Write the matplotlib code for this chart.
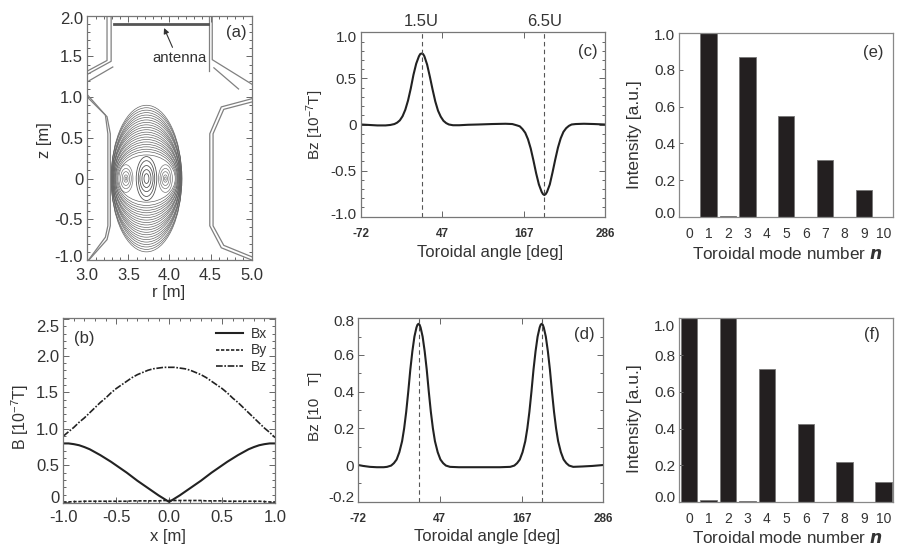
import matplotlib
matplotlib.use("Agg")
import matplotlib.pyplot as plt
from matplotlib.patches import Ellipse
from matplotlib.ticker import MultipleLocator
from matplotlib.transforms import ScaledTranslation

plt.rcParams["font.family"] = ["Liberation Sans", "DejaVu Sans"]
plt.rcParams["mathtext.default"] = "regular"
plt.rcParams["text.color"] = "#333333"
plt.rcParams["axes.labelcolor"] = "#333333"
plt.rcParams["xtick.color"] = "#666666"
plt.rcParams["ytick.color"] = "#666666"
plt.rcParams["xtick.labelcolor"] = "#333333"
plt.rcParams["ytick.labelcolor"] = "#333333"

W, H = 903, 547

# --------------------------------
# (a) machine cross section
# --------------------------------
wall_left_top_1 = ([3.24, 3.24, 3.0], [2.0, 1.45, 1.32])
wall_left_top_2 = ([3.29, 3.29, 3.0], [2.0, 1.44, 1.28])
wall_left_top_3 = ([3.31, 3.02], [1.37, 1.20])
wall_left_low_1 = ([3.0, 3.22, 3.25, 3.25, 3.22, 3.0], [1.03, 0.78, 0.55, -0.58, -0.72, -1.02])
wall_left_low_2 = ([3.0, 3.24, 3.28, 3.28, 3.24, 3.02], [1.0, 0.76, 0.55, -0.58, -0.75, -1.0])
wall_right_top_1 = ([4.48, 4.48], [2.0, 1.32])
wall_right_top_2 = ([4.52, 4.52, 5.0], [2.0, 1.46, 1.16])
wall_right_top_3 = ([4.54, 4.84], [1.36, 1.10])
wall_right_low_1 = ([5.0, 4.63, 4.49, 4.49, 4.63, 5.0], [0.98, 0.88, 0.55, -0.58, -0.85, -1.0])
wall_right_low_2 = ([5.0, 4.66, 4.53, 4.53, 4.66, 5.0], [0.94, 0.85, 0.55, -0.58, -0.82, -0.96])

walls = [
    wall_left_top_1, wall_left_top_2, wall_left_top_3,
    wall_left_low_1, wall_left_low_2,
    wall_right_top_1, wall_right_top_2, wall_right_top_3,
    wall_right_low_1, wall_right_low_2,
]

antenna_r = [3.33, 4.47]
antenna_z = [1.9, 1.9]

# contour surfaces: half width, half height
outer_w = [0.43, 0.43, 0.43, 0.42, 0.42, 0.42, 0.42, 0.41, 0.41, 0.41, 0.41, 0.40, 0.40, 0.40, 0.39, 0.39, 0.38, 0.38, 0.37, 0.36, 0.35]
outer_h = [0.90, 0.87, 0.84, 0.81, 0.78, 0.75, 0.72, 0.69, 0.66, 0.63, 0.60, 0.57, 0.54, 0.51, 0.48, 0.45, 0.42, 0.39, 0.36, 0.33, 0.29]
centre_w = [0.125, 0.10, 0.08, 0.055, 0.03]
centre_h = [0.27, 0.22, 0.16, 0.11, 0.06]
side_w = [0.085, 0.065, 0.045, 0.025, 0.01]
side_h = [0.17, 0.125, 0.085, 0.045, 0.02]
centre_r = 3.72
side_r = [3.47, 3.95]

# --------------------------------
# (b) field along x
# --------------------------------
x_b = [-1.0, -0.95, -0.9, -0.85, -0.8, -0.75, -0.7, -0.65, -0.6, -0.55, -0.5, -0.45, -0.4, -0.35,
       -0.3, -0.25, -0.2, -0.15, -0.1, -0.05, 0.0, 0.05, 0.1, 0.15, 0.2, 0.25, 0.3, 0.35, 0.4,
       0.45, 0.5, 0.55, 0.6, 0.65, 0.7, 0.75, 0.8, 0.85, 0.9, 0.95, 1.0]
bx = [0.80, 0.80, 0.79, 0.775, 0.75, 0.72, 0.68, 0.64, 0.595, 0.55, 0.50, 0.45, 0.40, 0.345,
      0.29, 0.24, 0.19, 0.14, 0.09, 0.045, 0.0, 0.045, 0.09, 0.14, 0.19, 0.24, 0.29, 0.345, 0.40,
      0.45, 0.50, 0.55, 0.595, 0.64, 0.68, 0.72, 0.75, 0.775, 0.79, 0.80, 0.80]
by = [0.0, 0.0, 0.005, 0.005, 0.01, 0.01, 0.01, 0.01, 0.01, 0.01, 0.01, 0.01, 0.01, 0.015,
      0.015, 0.015, 0.015, 0.015, 0.015, 0.02, 0.02, 0.02, 0.02, 0.02, 0.02, 0.02, 0.02, 0.015,
      0.015, 0.015, 0.015, 0.01, 0.01, 0.01, 0.01, 0.01, 0.01, 0.01, 0.005, 0.0, 0.0]
bz = [0.90, 0.96, 1.02, 1.09, 1.15, 1.22, 1.29, 1.36, 1.42, 1.49, 1.55, 1.60, 1.65, 1.70,
      1.74, 1.77, 1.80, 1.82, 1.83, 1.84, 1.84, 1.84, 1.83, 1.82, 1.80, 1.77, 1.74, 1.70, 1.65,
      1.60, 1.55, 1.49, 1.42, 1.36, 1.29, 1.22, 1.15, 1.08, 1.01, 0.95, 0.88]

# --------------------------------
# (c) (d) toroidal profiles
# --------------------------------
angle_c = [-72, -60, -48, -36, -29, -23, -19, -15, -11, -7, -3, 1, 5, 9, 13, 15, 17, 19, 21, 25, 29, 33,
           37, 41, 45, 49, 53, 57, 63, 72, 85, 100, 120, 140, 150, 157, 161, 165, 169, 173, 177, 181,
           185, 189, 193, 195, 197, 199, 201, 205, 209, 213, 217, 221, 225, 229, 233, 237, 243, 255, 270, 286]
bz_c = [0.0, -0.005, -0.01, -0.01, -0.005, 0.005, 0.02, 0.045, 0.09, 0.16, 0.26, 0.39, 0.54, 0.66, 0.74, 0.765, 0.77, 0.765, 0.74, 0.65, 0.52, 0.38,
        0.25, 0.15, 0.085, 0.04, 0.015, 0.0, -0.008, -0.008, -0.003, 0.0, 0.005, 0.008, 0.005, -0.01, -0.02, -0.05, -0.09, -0.16, -0.26, -0.39,
        -0.53, -0.65, -0.73, -0.755, -0.765, -0.755, -0.73, -0.65, -0.52, -0.38, -0.25, -0.15, -0.08, -0.04, -0.015, 0.0, 0.005, 0.008, 0.005, 0.0]

angle_d = [-72, -65, -55, -45, -35, -30, -24, -20, -16, -12, -8, -5, -2, 1, 4, 7, 10, 13, 14.5, 16, 17.5, 19, 22, 25, 28, 31,
           34, 37, 40, 44, 48, 52, 56, 62, 75, 90, 105, 120, 135, 150, 156, 160, 164, 168, 172, 175, 178, 181, 184, 187, 190, 193,
           194.5, 196, 197.5, 199, 202, 205, 208, 211, 214, 217, 220, 224, 228, 232, 236, 242, 255, 270, 286]
bz_d = [0.0, -0.005, -0.01, -0.012, -0.012, -0.01, -0.003, 0.01, 0.03, 0.07, 0.13, 0.20, 0.29, 0.40, 0.52, 0.62, 0.70, 0.75, 0.765, 0.77, 0.765, 0.75, 0.70, 0.62, 0.52, 0.40,
        0.29, 0.20, 0.13, 0.07, 0.03, 0.01, -0.003, -0.01, -0.012, -0.012, -0.012, -0.012, -0.012, -0.01, -0.003, 0.01, 0.03, 0.07, 0.13, 0.20, 0.29, 0.40, 0.52, 0.62, 0.70, 0.75,
        0.765, 0.77, 0.765, 0.75, 0.70, 0.62, 0.52, 0.40, 0.29, 0.20, 0.13, 0.07, 0.03, 0.01, -0.003, -0.01, -0.008, -0.005, 0.0]

peaks_c = [17, 197]
peaks_d = [16, 196]
peak_names = ["1.5U", "6.5U"]
angle_ticks = [-72, 47, 167, 286]

# --------------------------------
# (e) (f) mode spectra
# --------------------------------
modes = [0, 1, 2, 3, 4, 5, 6, 7, 8, 9, 10]
intensity_e = [0.001, 1.0, 0.005, 0.87, 0.004, 0.55, 0.004, 0.31, 0.004, 0.15, 0.004]
intensity_f = [1.0, 0.01, 1.0, 0.005, 0.725, 0.002, 0.425, 0.002, 0.22, 0.001, 0.11]


def make_axes(left, top, right, bottom):
    return fig.add_axes([left / W, 1 - bottom / H, (right - left) / W, (bottom - top) / H])


def to_fig(px, py):
    return px / W, 1 - py / H


def style_frame(ax, color="#777777"):
    for s in ax.spines.values():
        s.set_color(color)
        s.set_linewidth(0.9)
    ax.tick_params(which="both", direction="in", top=True, right=True, width=0.7)
    ax.tick_params(which="major", length=4)
    ax.tick_params(which="minor", length=2)


def nudge(label, dy):
    # move a tick label by dy pixels (positive = down)
    label.set_transform(label.get_transform() + ScaledTranslation(0, -dy / 100, fig.dpi_scale_trans))


def set_labels(ax, xlabel, xpos, ylabel, ypos, xsize=12, ysize=11):
    ax.set_xlabel(xlabel, fontsize=xsize, va="center")
    ax.set_ylabel(ylabel, fontsize=ysize, va="center")
    ax.xaxis.set_label_coords(*to_fig(*xpos), transform=fig.transFigure)
    ax.yaxis.set_label_coords(*to_fig(*ypos), transform=fig.transFigure)


def tag(text, px, py):
    x, y = to_fig(px, py)
    fig.text(x, y, text, fontsize=12, ha="center", va="center")


def draw_angle_panel(ax, angle, values, peaks, ylim, yticks, ylabels, xlabel_pos, ylabel_pos, ylabel):
    ax.plot(angle, values, color="#222222", lw=1.5)
    for p in peaks:
        ax.axvline(p, color="#555555", lw=0.8, ls=(0, (4, 3)))
    ax.set_xlim(-72, 286)
    ax.set_ylim(*ylim)
    ax.set_xticks(angle_ticks)
    ax.set_xticklabels([str(a) for a in angle_ticks], fontsize=8.5, fontweight="bold")
    ax.set_yticks(yticks)
    ax.set_yticklabels(ylabels, fontsize=11)
    style_frame(ax)
    ax.tick_params(axis="x", pad=8)
    ax.tick_params(axis="y", pad=3)
    set_labels(ax, "Toroidal angle [deg]", xlabel_pos, ylabel, ylabel_pos)


def draw_bar_panel(ax, values, xlabel_pos, ylabel_pos):
    ax.bar(modes, values, width=0.84, color="#231f20", edgecolor="#777777", linewidth=0.6)
    ax.set_xlim(-0.5, 10.5)
    ax.set_ylim(0, 1.0)
    ax.set_xticks(modes)
    ax.set_xticklabels([str(m) for m in modes], fontsize=10)
    ax.set_yticks([0, 0.2, 0.4, 0.6, 0.8, 1.0])
    ax.set_yticklabels(["0.0", "0.2", "0.4", "0.6", "0.8", "1.0"], fontsize=11)
    style_frame(ax, "#888888")
    ax.tick_params(which="major", top=False, right=False, length=3)
    ax.tick_params(axis="x", length=0, pad=7)
    ax.tick_params(axis="y", pad=3)
    set_labels(ax, r"Toroidal mode number $\boldsymbol{n}$", xlabel_pos, "Intensity [a.u.]", ylabel_pos,
               xsize=12.3, ysize=12.5)


fig = plt.figure(figsize=(W / 100, H / 100), dpi=100)

# --------------------------------
# Panel a
# --------------------------------
ax_a = make_axes(87.3, 15.7, 251.7, 260)
for r, z in walls:
    ax_a.plot(r, z, color="#808080", lw=0.9)
ax_a.plot(antenna_r, antenna_z, color="#555555", lw=2)
ax_a.annotate("", xy=(3.92, 1.88), xytext=(4.05, 1.58),
              arrowprops=dict(arrowstyle="-|>", color="#333333", lw=0.8, mutation_scale=8))
ax_a.text(4.12, 1.48, "antenna", fontsize=10.8, ha="center", va="center")
for w, h in zip(outer_w, outer_h):
    ax_a.add_patch(Ellipse((centre_r, 0), 2 * w, 2 * h, fill=False, edgecolor="#666666", lw=0.5))
for w, h in zip(centre_w, centre_h):
    ax_a.add_patch(Ellipse((centre_r, 0), 2 * w, 2 * h, fill=False, edgecolor="#555555", lw=0.6))
for r0 in side_r:
    for w, h in zip(side_w, side_h):
        ax_a.add_patch(Ellipse((r0, 0), 2 * w, 2 * h, fill=False, edgecolor="#777777", lw=0.5))
ax_a.set_xlim(3, 5)
ax_a.set_ylim(-1, 2)
ax_a.set_xticks([3.0, 3.5, 4.0, 4.5, 5.0])
ax_a.set_xticklabels(["3.0", "3.5", "4.0", "4.5", "5.0"], fontsize=12)
ax_a.set_yticks([-1.0, -0.5, 0, 0.5, 1.0, 1.5, 2.0])
ax_a.set_yticklabels(["-1.0", "-0.5", "0", "0.5", "1.0", "1.5", "2.0"], fontsize=12)
ax_a.xaxis.set_minor_locator(MultipleLocator(0.1))
ax_a.yaxis.set_minor_locator(MultipleLocator(0.1))
style_frame(ax_a)
ax_a.tick_params(axis="x", pad=6)
ax_a.tick_params(axis="y", pad=3)
set_labels(ax_a, "r [m]", (169, 292), "z [m]", (45, 140), xsize=12, ysize=12)
nudge(ax_a.get_yticklabels()[-1], 2)
nudge(ax_a.get_yticklabels()[0], -4)
tag("(a)", 236, 32)

# --------------------------------
# Panel b
# --------------------------------
ax_b = make_axes(63.3, 318.3, 275, 502.7)
ax_b.plot(x_b, bx, color="#222222", lw=1.5, label="Bx")
ax_b.plot(x_b, by, color="#222222", lw=1.2, ls=(0, (2, 1)), label="By")
ax_b.plot(x_b, bz, color="#222222", lw=1.2, ls=(0, (4, 1, 1, 1)), label="Bz")
ax_b.set_xlim(-1, 1)
ax_b.set_ylim(-0.01, 2.51)
ax_b.set_xticks([-1.0, -0.5, 0, 0.5, 1.0])
ax_b.set_xticklabels(["-1.0", "-0.5", "0.0", "0.5", "1.0"], fontsize=12)
ax_b.set_yticks([0, 0.5, 1.0, 1.5, 2.0, 2.5])
ax_b.set_yticklabels(["0", "0.5", "1.0", "1.5", "2.0", "2.5"], fontsize=12)
ax_b.xaxis.set_minor_locator(MultipleLocator(0.1))
ax_b.yaxis.set_minor_locator(MultipleLocator(0.1))
style_frame(ax_b)
ax_b.tick_params(axis="x", pad=5)
ax_b.tick_params(axis="y", pad=3)
set_labels(ax_b, "x [m]", (168, 537), r"B [10$^{-7}$T]", (20, 417), xsize=12, ysize=11.5)
nudge(ax_b.get_yticklabels()[-1], 7)
nudge(ax_b.get_yticklabels()[0], -5)
ax_b.legend(loc="upper right", frameon=False, fontsize=10, handlelength=2.0, handletextpad=0.5,
            labelspacing=0.2, borderaxespad=0.4, borderpad=0.2)
tag("(b)", 84, 338)

# --------------------------------
# Panels c, d
# --------------------------------
ax_c = make_axes(361, 32.3, 605, 216.7)
draw_angle_panel(ax_c, angle_c, bz_c, peaks_c, (-1.0, 1.0), [-1.0, -0.5, 0, 0.5, 1.0],
                 ["-1.0", "-0.5", "0", "0.5", "1.0"], (490, 252), (315, 125), r"Bz [10$^{-7}$T]")
ax_c.yaxis.set_minor_locator(MultipleLocator(0.1))
ax_c.tick_params(which="minor", length=2, direction="in", right=True, width=0.7)
nudge(ax_c.get_yticklabels()[-1], 4)
nudge(ax_c.get_yticklabels()[0], -3)
for p, name in zip(peaks_c, peak_names):
    ax_c.text(p, 1.02, name, transform=ax_c.get_xaxis_transform(), fontsize=12, ha="center", va="bottom")
tag("(c)", 587.7, 51.7)

ax_d = make_axes(358.3, 318.3, 603.3, 501.7)
draw_angle_panel(ax_d, angle_d, bz_d, peaks_d, (-0.2, 0.8), [-0.2, 0, 0.2, 0.4, 0.6, 0.8],
                 ["-0.2", "0", "0.2", "0.4", "0.6", "0.8"], (487, 537), (315, 406), "Bz [10   T]")
ax_d.yaxis.set_minor_locator(MultipleLocator(0.1))
ax_d.tick_params(which="minor", length=2, direction="in", right=True, width=0.7)
nudge(ax_d.get_yticklabels()[-1], 2)
nudge(ax_d.get_yticklabels()[0], -5)
tag("(d)", 584, 334)

# --------------------------------
# Panels e, f
# --------------------------------
ax_e = make_axes(679.3, 32.7, 893.3, 217.3)
draw_bar_panel(ax_e, intensity_e, (787, 254), (635, 135))
nudge(ax_e.get_yticklabels()[-1], 2)
nudge(ax_e.get_yticklabels()[0], -5)
tag("(e)", 873, 53)

ax_f = make_axes(679.3, 318.3, 893.3, 502)
draw_bar_panel(ax_f, intensity_f, (787, 538), (635, 419))
nudge(ax_f.get_yticklabels()[-1], 7)
nudge(ax_f.get_yticklabels()[0], -6)
tag("(f)", 871.7, 334)

plt.savefig("out.png", dpi=100)
plt.close()
